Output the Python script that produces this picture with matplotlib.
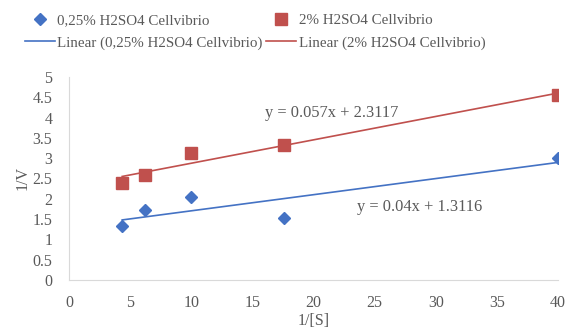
import numpy as np
import matplotlib.pyplot as plt

plt.rcParams['font.family'] = ['Liberation Serif', 'DejaVu Serif']

# 1/[S] and 1/V readings
x_vals   = [4.35, 6.25, 10.0, 17.6, 40.0]
y_low    = [1.34, 1.72, 2.04, 1.53, 3.01]   # 0,25% H2SO4
y_high   = [2.40, 2.58, 3.13, 3.33, 4.56]   # 2% H2SO4
eq_low   = 'y = 0.04x + 1.3116'
eq_high  = 'y = 0.057x + 2.3117'
lab_low  = '0,25% H2SO4 Cellvibrio'
lab_high = '2% H2SO4 Cellvibrio'

c_blue = '#4472C4'
c_red  = '#C0504D'
c_text = '#595959'
c_axis = '#D9D9D9'
fs_leg = 10.8
fs_eq  = 11.8
fs_ax  = 11.5

fig = plt.figure(figsize=(5.72, 3.33), dpi=100)
ax = fig.add_axes([0.1206, 0.159, 0.8549, 0.610])

x = np.asarray(x_vals)
xs = np.array([x.min(), x.max()])
h = []
for yv, col, mk, ms, lb in [(y_low, c_blue, 'D', 6.5, lab_low), (y_high, c_red, 's', 8, lab_high)]:
    p = np.polyfit(x, np.asarray(yv), 1)
    pts, = ax.plot(x, yv, linestyle='none', marker=mk, markersize=ms, color=col, label=lb, zorder=3)
    ln,  = ax.plot(xs, np.polyval(p, xs), color=col, linewidth=1.2, label='Linear (' + lb + ')', zorder=2)
    h += [pts, ln]

ax.text(16.0, 4.11, eq_high, fontsize=fs_eq, color=c_text, va='center')
ax.text(23.6, 1.80, eq_low, fontsize=fs_eq, color=c_text, va='center')

ax.set_xlim(0, 40)
ax.set_ylim(0, 5)
ax.set_xticks(np.arange(0, 41, 5))
ax.set_yticks(np.arange(0, 5.01, 0.5))
ax.set_yticklabels(['0', '0.5', '1', '1.5', '2', '2.5', '3', '3.5', '4', '4.5', '5'])
ax.tick_params('both', length=0, labelsize=fs_ax, labelcolor=c_text)
ax.tick_params('x', pad=11)
ax.tick_params('y', pad=12)
for s in ['top', 'right']:
    ax.spines[s].set_visible(False)
for s in ['left', 'bottom']:
    ax.spines[s].set_color(c_axis)
ax.set_xlabel('1/[S]', fontsize=fs_ax, color=c_text, labelpad=1)
ax.set_ylabel('1/V', fontsize=fs_ax, color=c_text, labelpad=1)

fig.legend(h, [a.get_label() for a in h], ncol=2, loc='upper left', bbox_to_anchor=(0.02, 1.0),
           frameon=False, fontsize=fs_leg, labelcolor=c_text, handlelength=2.0, handletextpad=0.15,
           columnspacing=0.25, labelspacing=0.6)

fig.savefig('out.png', dpi=100)
